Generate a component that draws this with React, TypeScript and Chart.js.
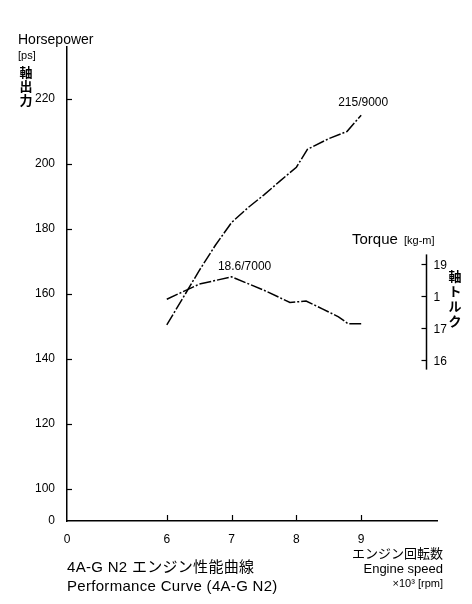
import React, { useEffect, useRef } from "react";
import { Chart, registerables } from "chart.js";

Chart.register(...registerables);

// ---- data ----
const hpRpm = [6.0, 6.25, 6.5, 6.75, 7.0, 7.25, 7.5, 7.75, 8.0, 8.17, 8.5, 8.78, 9.0];
const hpValues = [150.5, 158.8, 167.2, 175, 182, 186.5, 190.5, 194.8, 199, 204.5, 207.8, 210, 215];

const torqueRpm = [6.0, 6.5, 7.0, 7.5, 7.9, 8.15, 8.4, 8.65, 8.8, 9.0];
const torqueValues = [17.9, 18.37, 18.6, 18.18, 17.8, 17.84, 17.6, 17.35, 17.13, 17.13];

// axis breaks (where the "0" labels sit on the broken axes)
const X_BREAK = 4.46;
const Y_BREAK = 90.15;

const xTickValues = [X_BREAK, 6, 7, 8, 9];
const xTickLabels = ["0", "6", "7", "8", "9"];
const hpTickValues = [Y_BREAK, 100, 120, 140, 160, 180, 200, 220];
const hpTickLabels = ["0", "100", "120", "140", "160", "180", "200", "220"];
const torqueTickValues = [16, 17, 18, 19];
const torqueTickLabels = ["16", "17", "1", "19"];
const TORQUE_AXIS_RPM = 10;

const FONT = '"Liberation Sans", Arial, "Noto Sans CJK JP", sans-serif';
const JFONT = '"Noto Sans CJK JP", sans-serif';

const overlay = {
  id: "overlay",
  afterDraw(chart: any) {
    const ctx = chart.ctx as CanvasRenderingContext2D;
    const xs = chart.scales.x;
    const ys = chart.scales.y;
    const yt = chart.scales.y2;
    ctx.save();
    ctx.strokeStyle = "#000";
    ctx.fillStyle = "#000";
    ctx.lineWidth = 1.2;

    // left axis tick marks (inside)
    for (const v of hpTickValues.slice(1)) {
      const py = Math.round(ys.getPixelForValue(v)) + 0.5;
      ctx.beginPath();
      ctx.moveTo(xs.left, py);
      ctx.lineTo(xs.left + 5, py);
      ctx.stroke();
    }
    // bottom axis tick marks (inside)
    for (const v of xTickValues.slice(1)) {
      const px = Math.round(xs.getPixelForValue(v)) + 0.5;
      ctx.beginPath();
      ctx.moveTo(px, ys.bottom);
      ctx.lineTo(px, ys.bottom - 6);
      ctx.stroke();
    }

    // torque axis
    const ax = Math.round(xs.getPixelForValue(TORQUE_AXIS_RPM)) + 0.5;
    ctx.lineWidth = 1.5;
    ctx.beginPath();
    ctx.moveTo(ax, yt.getPixelForValue(19.3));
    ctx.lineTo(ax, yt.getPixelForValue(15.7));
    ctx.stroke();
    ctx.lineWidth = 1.2;
    ctx.font = `12px ${FONT}`;
    ctx.textAlign = "left";
    ctx.textBaseline = "middle";
    torqueTickValues.forEach((v, i) => {
      const py = Math.round(yt.getPixelForValue(v)) + 0.5;
      ctx.beginPath();
      ctx.moveTo(ax - 5, py);
      ctx.lineTo(ax, py);
      ctx.stroke();
      ctx.fillText(torqueTickLabels[i], ax + 7, py + 1);
    });

    // axis titles
    ctx.textAlign = "left";
    ctx.textBaseline = "middle";
    ctx.font = `14px ${FONT}`;
    ctx.fillText("Horsepower", 18, 40);
    ctx.font = `11px ${FONT}`;
    ctx.fillText("[ps]", 18, 56);
    ctx.font = `bold 13px ${JFONT}`;
    ctx.textAlign = "center";
    ["軸", "出", "力"].forEach((c, i) => ctx.fillText(c, 26, 72 + i * 14));

    ctx.textAlign = "left";
    ctx.font = `15px ${FONT}`;
    ctx.fillText("Torque", 352, 240);
    ctx.font = `11px ${FONT}`;
    ctx.fillText("[kg-m]", 404, 241);
    ctx.font = `bold 13px ${JFONT}`;
    ctx.textAlign = "center";
    ["軸", "ト", "ル", "ク"].forEach((c, i) => ctx.fillText(c, 455, 276 + i * 15));

    // curve annotations
    ctx.font = `12px ${FONT}`;
    ctx.textAlign = "center";
    ctx.fillText("215/9000", xs.getPixelForValue(9.0) + 2, ys.getPixelForValue(215) - 13);
    ctx.fillText("18.6/7000", xs.getPixelForValue(7.0) + 13, yt.getPixelForValue(18.6) - 10);

    // bottom captions
    ctx.textAlign = "left";
    ctx.font = `15px ${FONT}`;
    (ctx as any).letterSpacing = "0.3px";
    ctx.fillText("4A-G N2 エンジン性能曲線", 67, 568);
    ctx.fillText("Performance Curve (4A-G N2)", 67, 587);
    (ctx as any).letterSpacing = "0px";
    ctx.textAlign = "right";
    ctx.font = `13px ${JFONT}`;
    ctx.fillText("エンジン回転数", 443, 553);
    ctx.font = `13px ${FONT}`;
    ctx.fillText("Engine speed", 443, 569);
    ctx.font = `11px ${FONT}`;
    ctx.fillText("×10³ [rpm]", 443, 584);
    ctx.restore();
  },
};

export default function App() {
  const ref = useRef<HTMLCanvasElement | null>(null);
  useEffect(() => {
    if (!ref.current) return;
    const chart = new Chart(ref.current, {
      type: "line",
      data: {
        datasets: [
          {
            label: "Horsepower",
            data: hpRpm.map((x, i) => ({ x, y: hpValues[i] })),
            borderColor: "#000",
            borderWidth: 1.5,
            borderDash: [12, 2, 2, 2],
            pointRadius: 0,
            tension: 0,
            yAxisID: "y",
          },
          {
            label: "Torque",
            data: torqueRpm.map((x, i) => ({ x, y: torqueValues[i] })),
            borderColor: "#000",
            borderWidth: 1.5,
            borderDash: [12, 2, 2, 2],
            pointRadius: 0,
            tension: 0,
            yAxisID: "y2",
          },
        ],
      },
      options: {
        responsive: false,
        animation: false,
        devicePixelRatio: 1,
        layout: { padding: { left: 0, right: 35, top: 47, bottom: 0 } },
        plugins: { legend: { display: false }, tooltip: { enabled: false } },
        scales: {
          x: {
            type: "linear",
            min: X_BREAK,
            max: 10.17,
            afterBuildTicks: (s: any) => {
              s.ticks = xTickValues.map((v) => ({ value: v }));
            },
            afterFit: (s: any) => {
              s.height = 83;
            },
            grid: { display: false, drawTicks: false },
            border: { display: true, color: "#000", width: 1.5 },
            ticks: {
              color: "#000",
              font: { family: FONT, size: 12 },
              padding: 11,
              maxRotation: 0,
              autoSkip: false,
              callback: (_v: any, i: number) => xTickLabels[i],
            },
          },
          y: {
            type: "linear",
            position: "left",
            min: Y_BREAK,
            max: 236,
            afterBuildTicks: (s: any) => {
              s.ticks = hpTickValues.map((v) => ({ value: v }));
            },
            afterFit: (s: any) => {
              s.width = 67;
            },
            grid: { display: false, drawTicks: false },
            border: { display: true, color: "#000", width: 1.5 },
            ticks: {
              color: "#000",
              font: { family: FONT, size: 12 },
              padding: 12,
              autoSkip: false,
              callback: (_v: any, i: number) => hpTickLabels[i],
            },
          },
          y2: {
            type: "linear",
            position: "right",
            display: false,
            min: 10.97,
            max: 25.78,
          },
        },
      },
      plugins: [overlay],
    } as any);
    return () => chart.destroy();
  }, []);
  return (
    <div style={{ position: "fixed", left: 0, top: 0, width: 472, height: 604, background: "#fff" }}>
      <canvas ref={ref} width={472} height={604} style={{ display: "block" }} />
    </div>
  );
}
